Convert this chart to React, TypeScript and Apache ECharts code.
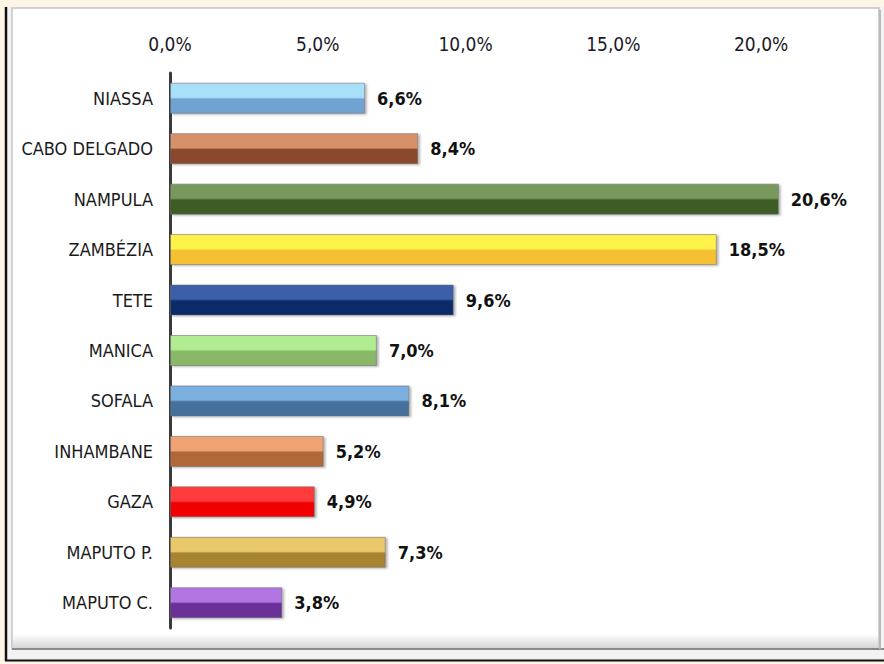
import React, { useEffect, useRef } from "react";
import * as echarts from "echarts";

const categories = [
  "NIASSA",
  "CABO DELGADO",
  "NAMPULA",
  "ZAMBÉZIA",
  "TETE",
  "MANICA",
  "SOFALA",
  "INHAMBANE",
  "GAZA",
  "MAPUTO P.",
  "MAPUTO C.",
];
const values = [6.6, 8.4, 20.6, 18.5, 9.6, 7.0, 8.1, 5.2, 4.9, 7.3, 3.8];
const topColors = [
  "#a8e0fa",
  "#d8906a",
  "#78985c",
  "#fff24a",
  "#3a5ea8",
  "#b2ec92",
  "#7aafe0",
  "#f0a272",
  "#ff3b3b",
  "#e8c86a",
  "#b274e2",
];
const bottomColors = [
  "#6fa3d2",
  "#8a4a2c",
  "#3e5b28",
  "#f5c030",
  "#0e2a68",
  "#88b868",
  "#44709c",
  "#b06838",
  "#f00000",
  "#a88430",
  "#6a3098",
];
const xTicks = [0, 5, 10, 15, 20];

const fmt = (v: number) => v.toFixed(1).replace(".", ",") + "%";

export default function App() {
  const ref = useRef<HTMLDivElement>(null);
  useEffect(() => {
    if (!ref.current) return;
    const chart = echarts.init(ref.current, null, { renderer: "svg" });
    const font = "'DejaVu Sans Condensed', 'Liberation Sans Narrow', sans-serif";
    const data = values.map((v, i) => ({
      value: v,
      itemStyle: {
        color: new echarts.graphic.LinearGradient(0, 0, 0, 1, [
          { offset: 0, color: topColors[i] },
          { offset: 0.47, color: topColors[i] },
          { offset: 0.53, color: bottomColors[i] },
          { offset: 1, color: bottomColors[i] },
        ]),
      },
    }));
    chart.setOption({
      animation: false,
      backgroundColor: "#fdf6e4",
      graphic: [
        {
          type: "rect",
          z: -10,
          silent: true,
          shape: { x: 5, y: 7, width: 879, height: 655 },
          style: { fill: "#f3f3f3" },
        },
        {
          type: "rect",
          z: -9,
          silent: true,
          shape: { x: 12, y: 8, width: 867, height: 641 },
          style: { fill: "#ffffff", stroke: "#c4c4c4", lineWidth: 1.5 },
        },
        {
          type: "rect",
          z: -8,
          silent: true,
          shape: { x: 13, y: 634, width: 865, height: 14 },
          style: {
            fill: new echarts.graphic.LinearGradient(0, 0, 0, 1, [
              { offset: 0, color: "#ffffff" },
              { offset: 1, color: "#d6d6d6" },
            ]),
          },
        },
        {
          type: "line",
          z: -7,
          silent: true,
          shape: { x1: 12, y1: 649, x2: 884, y2: 649 },
          style: { stroke: "#8a8a8a", lineWidth: 2 },
        },
        {
          type: "line",
          z: -7,
          silent: true,
          shape: { x1: 880, y1: 10, x2: 880, y2: 649 },
          style: { stroke: "#b8b8b8", lineWidth: 2 },
        },
        {
          type: "line",
          z: -6,
          silent: true,
          shape: { x1: 6, y1: 7, x2: 6, y2: 661 },
          style: { stroke: "#111111", lineWidth: 2.5 },
        },
        {
          type: "line",
          z: -6,
          silent: true,
          shape: { x1: 5, y1: 660.5, x2: 884, y2: 660.5 },
          style: { stroke: "#111111", lineWidth: 2 },
        },
      ],
      grid: { left: 170, right: 49, top: 73, bottom: 36, containLabel: false },
      xAxis: {
        type: "value",
        position: "top",
        min: 0,
        max: 22.5,
        interval: 5,
        axisLine: { show: false },
        axisTick: { show: false },
        splitLine: { show: false },
        axisLabel: {
          margin: 20,
          showMaxLabel: false,
          fontFamily: font,
          fontSize: 19,
          color: "#1a1a2a",
          formatter: (v: number) => (xTicks.includes(v) ? fmt(v) : ""),
        },
      },
      yAxis: {
        type: "category",
        inverse: true,
        data: categories,
        axisLine: { show: true, lineStyle: { color: "#3a3a3a", width: 3 } },
        axisTick: { show: false },
        axisLabel: {
          margin: 17,
          fontFamily: font,
          fontSize: 18,
          color: "#1a1a1a",
        },
      },
      series: [
        {
          type: "bar",
          data,
          barWidth: 31,
          itemStyle: {
            borderColor: "rgba(110,110,110,0.55)",
            borderWidth: 1,
            shadowColor: "rgba(0,0,0,0.3)",
            shadowBlur: 2,
            shadowOffsetX: 2,
            shadowOffsetY: 1,
          },
          label: {
            show: true,
            position: "right",
            distance: 12,
            fontFamily: font,
            fontWeight: "bold",
            fontSize: 18,
            color: "#111111",
            formatter: (p: any) => fmt(p.value),
          },
        },
      ],
    });
    return () => chart.dispose();
  }, []);
  return (
    <div
      ref={ref}
      style={{ position: "fixed", left: 0, top: 0, width: 884, height: 664 }}
    />
  );
}
